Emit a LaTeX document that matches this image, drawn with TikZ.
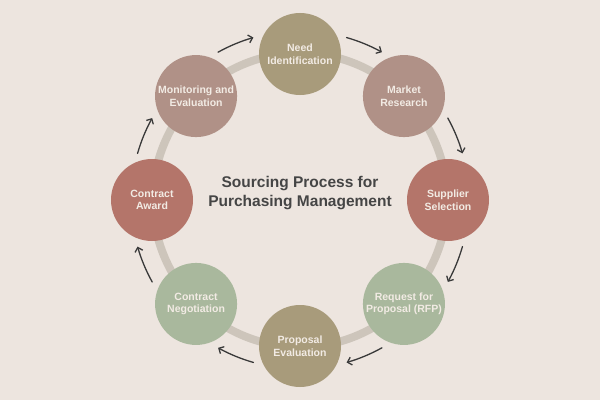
\documentclass[tikz,border=0pt]{standalone}
\usepackage{fontspec}
\setmainfont{Liberation Sans}
\usetikzlibrary{arrows.meta}
\definecolor{bgc}{HTML}{EDE5DF}
\definecolor{ringc}{HTML}{CDC5BB}
\definecolor{khaki}{HTML}{A89B7B}
\definecolor{mauve}{HTML}{B09187}
\definecolor{terra}{HTML}{B4756A}
\definecolor{sage}{HTML}{A9B89D}
\definecolor{nodetext}{HTML}{F2EBE4}
\definecolor{titlec}{HTML}{454545}
\definecolor{arrowc}{HTML}{3A3A3A}
\begin{document}
\begin{tikzpicture}[x=1pt,y=1pt,
  stage/.style={circle,minimum size=82pt,inner sep=0pt,align=center,
    font=\bfseries\fontsize{10.5}{12.5}\selectfont,text=nodetext},
  flow/.style={draw=arrowc,line width=1.3pt,line cap=round,
    -{Straight Barb[length=4pt,width=8pt,line width=1.3pt]}},
  ringline/.style={draw=ringc,line width=8pt}]
\fill[bgc] (0,0) rectangle (600,400);
\useasboundingbox (0,0) rectangle (600,400);
\begin{scope}[shift={(300,200)}]
  \coordinate (ctr) at (0,0);
  \draw[ringline] (ctr) circle (147);
  \node[stage,fill=khaki] (need) at (90:146) {Need\\Identification};
  \node[stage,fill=mauve] (market) at (45:147) {Market\\Research};
  \node[stage,fill=terra] (supplier) at (0:148) {Supplier\\Selection};
  \node[stage,fill=sage] (rfp) at (-45:147) {Request for\\Proposal (RFP)};
  \node[stage,fill=khaki] (proposal) at (-90:146) {Proposal\\Evaluation};
  \node[stage,fill=sage] (negotiation) at (-135:147) {Contract\\Negotiation};
  \node[stage,fill=terra] (award) at (180:148) {Contract\\Award};
  \node[stage,fill=mauve] (monitor) at (135:147) {Monitoring and\\Evaluation};
  \node[font=\bfseries\fontsize{15.5}{19}\selectfont,text=titlec,align=center] (title) at (0,7) {Sourcing Process for\\Purchasing Management};
  \foreach \m [count=\i] in {112.5,67.5,22.5,-22.5,-67.5,-112.5,-157.5,157.5}{
    \coordinate (s\i) at (\m+6.5:169);
    \draw[flow] (s\i) arc[start angle=\m+6.5, end angle=\m-6.5, radius=169];
  }
\end{scope}
\end{tikzpicture}
\end{document}
